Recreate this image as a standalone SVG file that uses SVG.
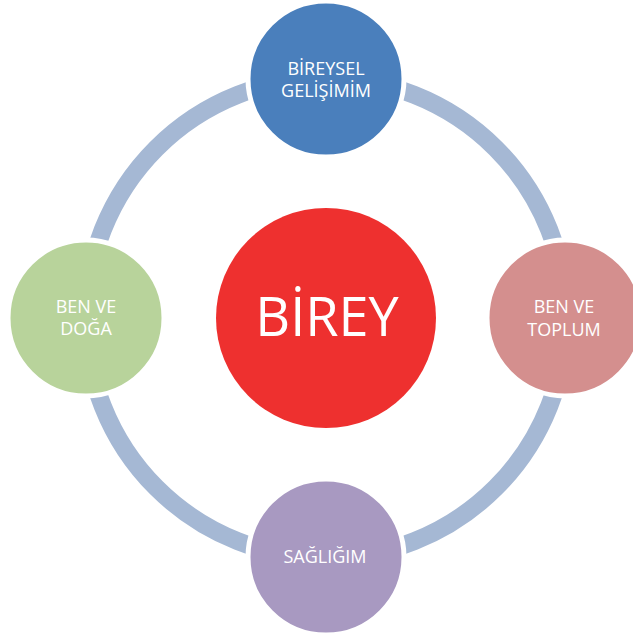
<svg xmlns="http://www.w3.org/2000/svg" width="633" height="639" viewBox="0 0 633 639">
<style>
.node{stroke:#fff;stroke-width:5}
.lbl{font-family:"Open Sans","Liberation Sans",sans-serif;font-size:18px;fill:#fff;text-anchor:middle}
.big{font-family:"Open Sans","Liberation Sans",sans-serif;font-size:54px;fill:#fff;text-anchor:middle}
</style>
<rect width="633" height="639" fill="#fff"/>
<g id="connectors">
<circle cx="326" cy="318" r="240" fill="none" stroke="#A5B8D4" stroke-width="18"/>
</g>
<g id="center">
<circle cx="326" cy="318" r="110" fill="#EE302F"/>
<text class="big" x="327" y="336">BİREY</text>
</g>
<g id="top">
<circle class="node" cx="326" cy="79" r="78" fill="#4A7FBC"/>
<text class="lbl" x="326" y="75">BİREYSEL</text>
<text class="lbl" x="326" y="97">GELİŞİMİM</text>
</g>
<g id="right">
<circle class="node" cx="565" cy="318" r="78" fill="#D48F8E"/>
<text class="lbl" x="564" y="313">BEN VE</text>
<text class="lbl" x="564" y="336">TOPLUM</text>
</g>
<g id="bottom">
<circle class="node" cx="326" cy="557" r="78" fill="#A899C1"/>
<text class="lbl" x="325" y="563">SAĞLIĞIM</text>
</g>
<g id="left">
<circle class="node" cx="86" cy="318" r="78" fill="#B8D39B"/>
<text class="lbl" x="86" y="313">BEN VE</text>
<text class="lbl" x="86" y="335">DOĞA</text>
</g>
</svg>
